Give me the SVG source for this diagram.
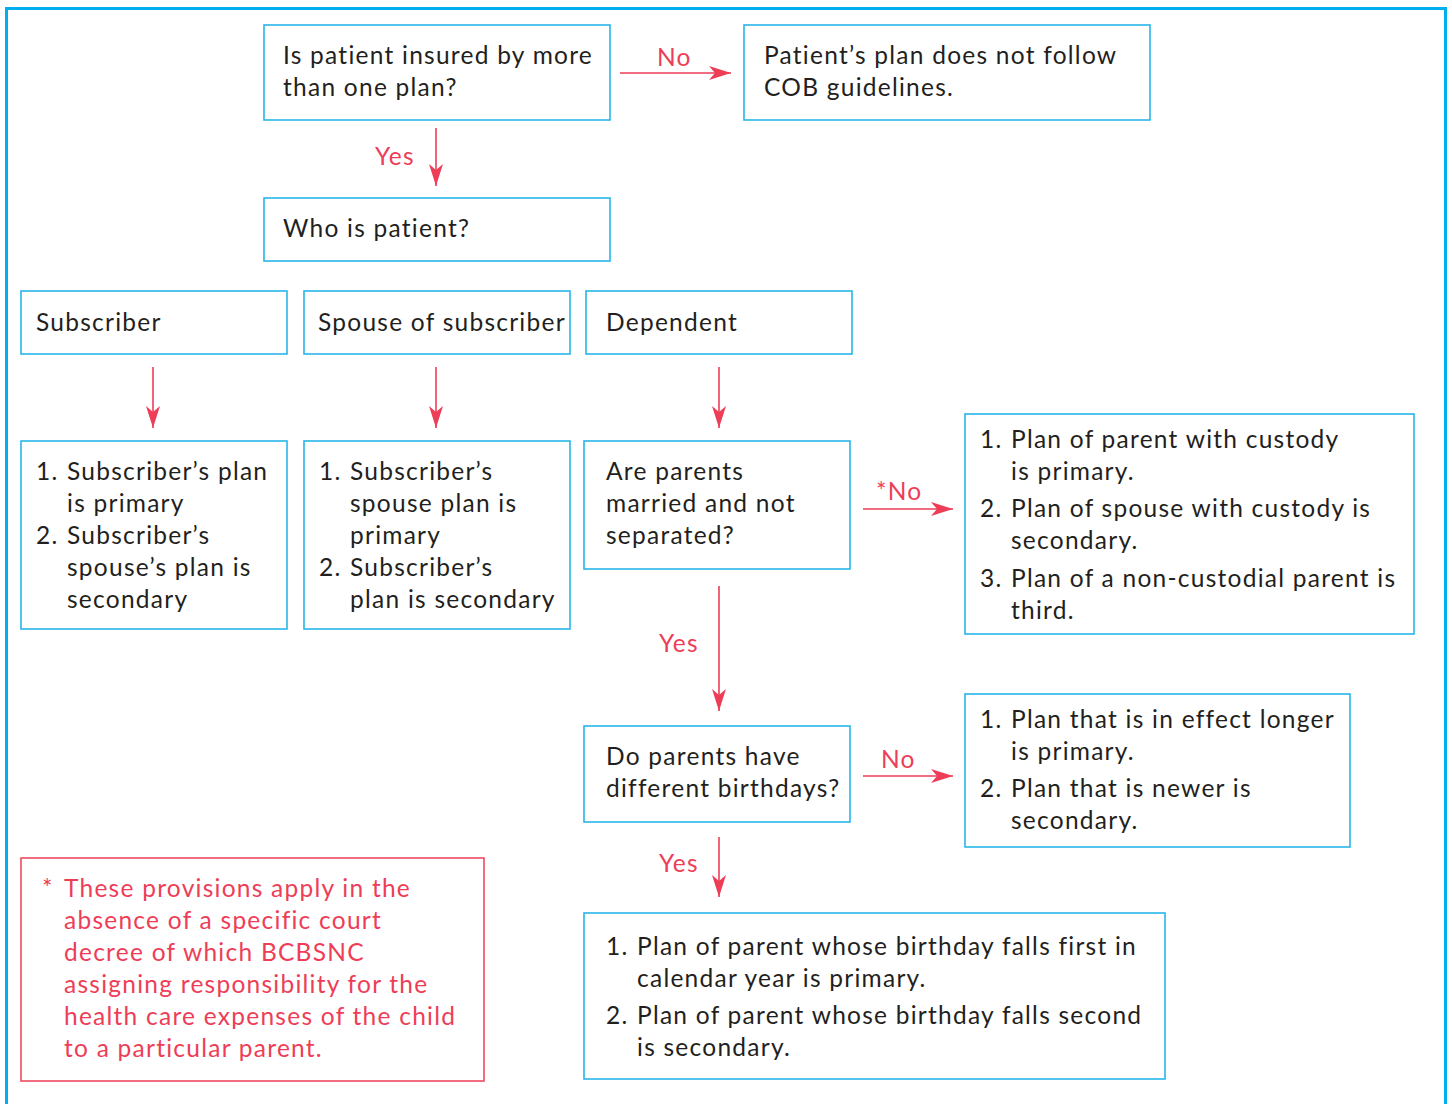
<svg xmlns="http://www.w3.org/2000/svg" width="1452" height="1104" viewBox="0 0 1452 1104">
<style>
.bx{fill:#fff;stroke:#29B6E8;stroke-width:1.6}
.nb{fill:#fff;stroke:#EE4A60;stroke-width:1.6}
text{font-family:Lato,"Open Sans","Liberation Sans",sans-serif;font-size:24.5px;letter-spacing:1.25px;fill:#231F20}
.lb{fill:#EE3D57}
.cn{stroke:#EE3D57;stroke-width:1.6;fill:none;marker-end:url(#ah)}
</style>
<defs>
<marker id="ah" markerUnits="userSpaceOnUse" markerWidth="24" markerHeight="16" refX="22" refY="8" orient="auto">
<path d="M0,1 L22,8 L0,15 L6,8 Z" fill="#EE3D57"/>
</marker>
</defs>
<rect x="0" y="0" width="1452" height="1104" fill="#fff"/>
<rect x="6.5" y="8.5" width="1439" height="1120" fill="none" stroke="#00AEEF" stroke-width="3"/>

<g id="connectors">
<line class="cn" x1="620" y1="73" x2="731" y2="73"/>
<text class="lb" x="657" y="66">No</text>
<line class="cn" x1="436" y1="128" x2="436" y2="186"/>
<text class="lb" x="375" y="165">Yes</text>
<line class="cn" x1="153" y1="367" x2="153" y2="428"/>
<line class="cn" x1="436" y1="367" x2="436" y2="428"/>
<line class="cn" x1="719" y1="367" x2="719" y2="428"/>
<line class="cn" x1="863" y1="509" x2="953" y2="509"/>
<text class="lb" x="876" y="500">*No</text>
<line class="cn" x1="719" y1="586" x2="719" y2="711"/>
<text class="lb" x="659" y="652">Yes</text>
<line class="cn" x1="863" y1="776" x2="953" y2="776"/>
<text class="lb" x="881" y="768">No</text>
<line class="cn" x1="719" y1="837" x2="719" y2="897"/>
<text class="lb" x="659" y="872">Yes</text>
</g>

<g id="q1">
<rect class="bx" x="264" y="25" width="346" height="95"/>
<text x="283" y="64">Is patient insured by more</text>
<text x="283" y="96">than one plan?</text>
</g>
<g id="nocob">
<rect class="bx" x="744" y="25" width="406" height="95"/>
<text x="764" y="64">Patient’s plan does not follow</text>
<text x="764" y="96">COB guidelines.</text>
</g>
<g id="who">
<rect class="bx" x="264" y="198" width="346" height="63"/>
<text x="283" y="237">Who is patient?</text>
</g>
<g id="subscriber">
<rect class="bx" x="21" y="291" width="266" height="63"/>
<text x="36" y="331">Subscriber</text>
</g>
<g id="spouse">
<rect class="bx" x="304" y="291" width="266" height="63"/>
<text x="318" y="331">Spouse of subscriber</text>
</g>
<g id="dependent">
<rect class="bx" x="586" y="291" width="266" height="63"/>
<text x="606" y="331">Dependent</text>
</g>
<g id="subrules">
<rect class="bx" x="21" y="441" width="266" height="188"/>
<text x="36" y="480">1.</text><text x="67" y="480">Subscriber’s plan</text>
<text x="67" y="512">is primary</text>
<text x="36" y="544">2.</text><text x="67" y="544">Subscriber’s</text>
<text x="67" y="576">spouse’s plan is</text>
<text x="67" y="608">secondary</text>
</g>
<g id="spouserules">
<rect class="bx" x="304" y="441" width="266" height="188"/>
<text x="319" y="480">1.</text><text x="350" y="480">Subscriber’s</text>
<text x="350" y="512">spouse plan is</text>
<text x="350" y="544">primary</text>
<text x="319" y="576">2.</text><text x="350" y="576">Subscriber’s</text>
<text x="350" y="608">plan is secondary</text>
</g>
<g id="married">
<rect class="bx" x="584" y="441" width="266" height="128"/>
<text x="606" y="480">Are parents</text>
<text x="606" y="512">married and not</text>
<text x="606" y="544">separated?</text>
</g>
<g id="custody">
<rect class="bx" x="965" y="414" width="449" height="220"/>
<text x="980" y="448">1.</text><text x="1011" y="448">Plan of parent with custody</text>
<text x="1011" y="480">is primary.</text>
<text x="980" y="517">2.</text><text x="1011" y="517">Plan of spouse with custody is</text>
<text x="1011" y="549">secondary.</text>
<text x="980" y="587">3.</text><text x="1011" y="587">Plan of a non-custodial parent is</text>
<text x="1011" y="619">third.</text>
</g>
<g id="birthdays">
<rect class="bx" x="584" y="726" width="266" height="96"/>
<text x="606" y="765">Do parents have</text>
<text x="606" y="797">different birthdays?</text>
</g>
<g id="longer">
<rect class="bx" x="965" y="694" width="385" height="153"/>
<text x="980" y="728">1.</text><text x="1011" y="728">Plan that is in effect longer</text>
<text x="1011" y="760">is primary.</text>
<text x="980" y="797">2.</text><text x="1011" y="797">Plan that is newer is</text>
<text x="1011" y="829">secondary.</text>
</g>
<g id="birthdayrule">
<rect class="bx" x="584" y="913" width="581" height="166"/>
<text x="606" y="955">1.</text><text x="637" y="955">Plan of parent whose birthday falls first in</text>
<text x="637" y="987">calendar year is primary.</text>
<text x="606" y="1024">2.</text><text x="637" y="1024">Plan of parent whose birthday falls second</text>
<text x="637" y="1056">is secondary.</text>
</g>
<g id="note">
<rect class="nb" x="21" y="858" width="463" height="223"/>
<text class="lb" x="42" y="897">*</text><text class="lb" x="64" y="897">These provisions apply in the</text>
<text class="lb" x="64" y="929">absence of a specific court</text>
<text class="lb" x="64" y="961">decree of which BCBSNC</text>
<text class="lb" x="64" y="993">assigning responsibility for the</text>
<text class="lb" x="64" y="1025">health care expenses of the child</text>
<text class="lb" x="64" y="1057">to a particular parent.</text>
</g>
</svg>
